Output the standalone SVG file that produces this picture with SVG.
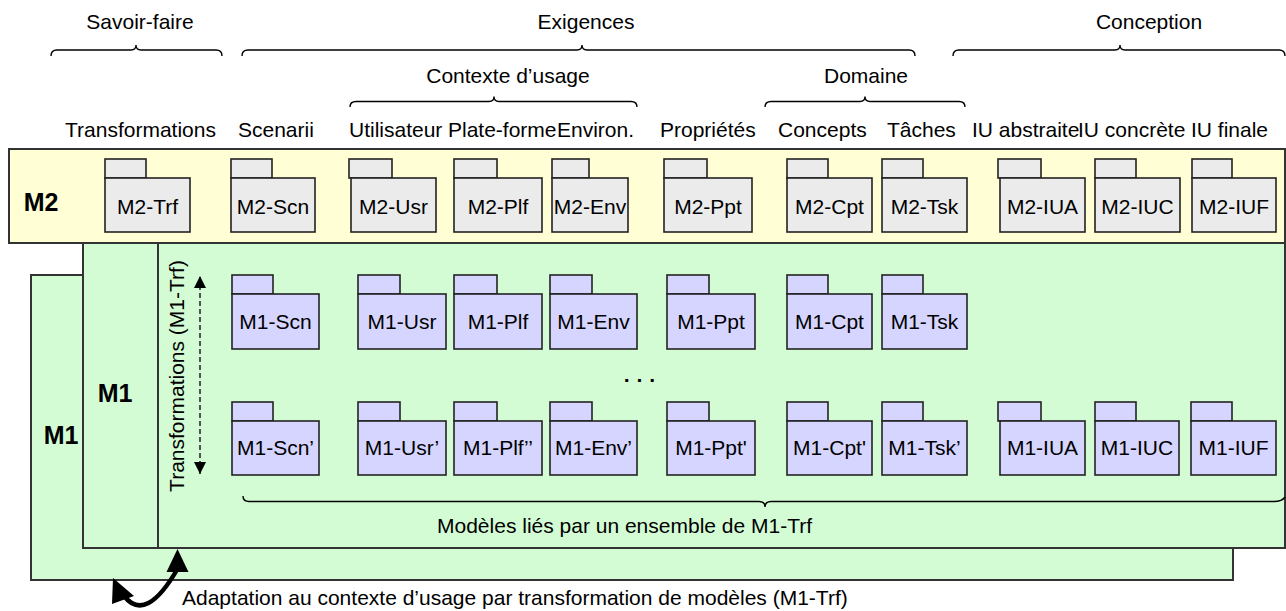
<svg xmlns="http://www.w3.org/2000/svg" width="1286" height="611" viewBox="0 0 1286 611">
<style>
text{font-family:"Liberation Sans",Arial,sans-serif;font-size:21px;fill:#000}
.c{text-anchor:middle}
.b{font-weight:bold;font-size:25px}
.frame{stroke:#333;stroke-width:2}
.pk rect{stroke:#222;stroke-width:1.6}
.m2 rect{fill:#EBEBEB}
.m1 rect{fill:#D5D5FF}
.brace{fill:none;stroke:#000;stroke-width:1.4}
</style>
<defs>
<marker id="ah" viewBox="0 0 12 12" refX="12" refY="6" markerWidth="12" markerHeight="12" markerUnits="userSpaceOnUse" orient="auto-start-reverse">
<path d="M0,0 L12,6 L0,12 Z" fill="#000"/>
</marker>
</defs>
<g id="labels-top">
<text class="c" x="140" y="29">Savoir-faire</text>
<text class="c" x="586" y="29">Exigences</text>
<text class="c" x="1149" y="29">Conception</text>
<text class="c" x="508" y="83">Contexte d’usage</text>
<text class="c" x="866" y="83">Domaine</text>
<text x="65" y="137">Transformations</text>
<text x="238" y="137">Scenarii</text>
<text x="349" y="137">Utilisateur</text>
<text x="448" y="137">Plate-forme</text>
<text x="557" y="137">Environ.</text>
<text x="660" y="137">Propriétés</text>
<text x="778" y="137">Concepts</text>
<text x="887" y="137">Tâches</text>
<text x="972" y="137">IU abstraite</text>
<text x="1078" y="137">IU concrète</text>
<text x="1191" y="137">IU finale</text>
</g>
<g id="braces" class="brace">
<path class="brace" d="M51,56 Q51,50 57,50 L131,50 Q136,50 136,45 Q136,50 141,50 L216,50 Q222,50 222,56"/>
<path class="brace" d="M242,56 Q242,50 248,50 L577,50 Q582,50 582,45 Q582,50 587,50 L909,50 Q915,50 915,56"/>
<path class="brace" d="M953,56 Q953,50 959,50 L1115,50 Q1120,50 1120,45 Q1120,50 1125,50 L1279,50 Q1285,50 1285,56"/>
<path class="brace" d="M350,107 Q350,101.5 356,101.5 L489,101.5 Q494,101.5 494,96.5 Q494,101.5 499,101.5 L631,101.5 Q637,101.5 637,107"/>
<path class="brace" d="M765,107 Q765,101.5 771,101.5 L860,101.5 Q865,101.5 865,96.5 Q865,101.5 870,101.5 L959,101.5 Q965,101.5 965,107"/>
</g>
<g id="M1-back">
<rect class="frame" x="31" y="275" width="1202" height="305" fill="#D4FCD4"/>
<text class="b c" x="61" y="444">M1</text>
</g>
<g id="M1-front">
<rect class="frame" x="83" y="243" width="1202" height="305" fill="#D4FCD4"/>
<line class="frame" x1="158" y1="243" x2="158" y2="548"/>
<text class="b c" x="115" y="402">M1</text>
</g>
<g id="M2">
<rect class="frame" x="9" y="149" width="1276" height="94" fill="#FFFED5"/>
<text class="b c" x="41" y="211">M2</text>
</g>
<g id="m2-packages" class="pk m2">
<g id="M2-Trf"><rect x="105" y="159" width="41" height="19"/><rect x="105" y="178" width="85" height="54"/><text class="c" x="147.5" y="214">M2-Trf</text></g>
<g id="M2-Scn"><rect x="231" y="159" width="41" height="19"/><rect x="231" y="178" width="84" height="54"/><text class="c" x="273" y="214">M2-Scn</text></g>
<g id="M2-Usr"><rect x="349" y="159" width="43" height="19"/><rect x="351" y="178" width="85" height="54"/><text class="c" x="393.5" y="214">M2-Usr</text></g>
<g id="M2-Plf"><rect x="454" y="159" width="43" height="19"/><rect x="454" y="178" width="88" height="54"/><text class="c" x="498" y="214">M2-Plf</text></g>
<g id="M2-Env"><rect x="552" y="159" width="37" height="19"/><rect x="552" y="178" width="76" height="54"/><text class="c" x="590" y="214">M2-Env</text></g>
<g id="M2-Ppt"><rect x="664" y="159" width="43" height="19"/><rect x="664" y="178" width="88" height="54"/><text class="c" x="708" y="214">M2-Ppt</text></g>
<g id="M2-Cpt"><rect x="787" y="159" width="41" height="19"/><rect x="787" y="178" width="85" height="54"/><text class="c" x="829.5" y="214">M2-Cpt</text></g>
<g id="M2-Tsk"><rect x="882" y="159" width="41" height="19"/><rect x="882" y="178" width="85" height="54"/><text class="c" x="924.5" y="214">M2-Tsk</text></g>
<g id="M2-IUA"><rect x="998" y="159" width="43" height="19"/><rect x="1000" y="178" width="85" height="54"/><text class="c" x="1042.5" y="214">M2-IUA</text></g>
<g id="M2-IUC"><rect x="1095" y="159" width="41" height="19"/><rect x="1095" y="178" width="85" height="54"/><text class="c" x="1137.5" y="214">M2-IUC</text></g>
<g id="M2-IUF"><rect x="1192" y="159" width="40" height="19"/><rect x="1192" y="178" width="84" height="54"/><text class="c" x="1234" y="214">M2-IUF</text></g>
</g>
<g id="m1-packages-row1" class="pk m1">
<g id="M1-Scn"><rect x="232" y="275" width="41" height="19"/><rect x="232" y="294" width="87" height="55"/><text class="c" x="275.5" y="329">M1-Scn</text></g>
<g id="M1-Usr"><rect x="358" y="275" width="42" height="19"/><rect x="358" y="294" width="88" height="55"/><text class="c" x="402" y="329">M1-Usr</text></g>
<g id="M1-Plf"><rect x="454" y="275" width="43" height="19"/><rect x="454" y="294" width="88" height="55"/><text class="c" x="498" y="329">M1-Plf</text></g>
<g id="M1-Env"><rect x="550" y="275" width="42" height="19"/><rect x="550" y="294" width="87" height="55"/><text class="c" x="593.5" y="329">M1-Env</text></g>
<g id="M1-Ppt"><rect x="667" y="275" width="42" height="19"/><rect x="667" y="294" width="88" height="55"/><text class="c" x="711" y="329">M1-Ppt</text></g>
<g id="M1-Cpt"><rect x="787" y="275" width="41" height="19"/><rect x="787" y="294" width="85" height="55"/><text class="c" x="829.5" y="329">M1-Cpt</text></g>
<g id="M1-Tsk"><rect x="882" y="275" width="41" height="19"/><rect x="882" y="294" width="85" height="55"/><text class="c" x="924.5" y="329">M1-Tsk</text></g>
</g>
<text class="c" x="640" y="387" font-weight="bold">· · ·</text>
<g id="m1-packages-row2" class="pk m1">
<g id="M1-Scn2"><rect x="232" y="402" width="41" height="19"/><rect x="232" y="421" width="87" height="54"/><text class="c" x="275.5" y="455">M1-Scn’</text></g>
<g id="M1-Usr2"><rect x="358" y="402" width="42" height="19"/><rect x="358" y="421" width="88" height="54"/><text class="c" x="402" y="455">M1-Usr’</text></g>
<g id="M1-Plf2"><rect x="454" y="402" width="43" height="19"/><rect x="454" y="421" width="88" height="54"/><text class="c" x="498" y="455">M1-Plf’’</text></g>
<g id="M1-Env2"><rect x="550" y="402" width="42" height="19"/><rect x="550" y="421" width="87" height="54"/><text class="c" x="593.5" y="455">M1-Env’</text></g>
<g id="M1-Ppt2"><rect x="667" y="402" width="42" height="19"/><rect x="667" y="421" width="88" height="54"/><text class="c" x="711" y="455">M1-Ppt'</text></g>
<g id="M1-Cpt2"><rect x="787" y="402" width="41" height="19"/><rect x="787" y="421" width="85" height="54"/><text class="c" x="829.5" y="455">M1-Cpt'</text></g>
<g id="M1-Tsk2"><rect x="882" y="402" width="41" height="19"/><rect x="882" y="421" width="85" height="54"/><text class="c" x="924.5" y="455">M1-Tsk’</text></g>
<g id="M1-IUA"><rect x="998" y="402" width="43" height="19"/><rect x="1000" y="421" width="85" height="54"/><text class="c" x="1042.5" y="455">M1-IUA</text></g>
<g id="M1-IUC"><rect x="1095" y="402" width="41" height="19"/><rect x="1095" y="421" width="84" height="54"/><text class="c" x="1137" y="455">M1-IUC</text></g>
<g id="M1-IUF"><rect x="1191" y="402" width="41" height="19"/><rect x="1191" y="421" width="85" height="54"/><text class="c" x="1233.5" y="455">M1-IUF</text></g>
</g>
<g id="connectors">
<line x1="200" y1="474" x2="200" y2="276" stroke="#000" stroke-width="1.3" stroke-dasharray="5,3" marker-start="url(#ah)" marker-end="url(#ah)"/>
<path class="brace" d="M243,496 Q243,501.5 249,501.5 L759,501.5 Q765,501.5 765,507 Q765,501.5 771,501.5 L1274,501.5 Q1282,501.5 1285,497"/>
<path d="M124,596 Q146,624 178,568" fill="none" stroke="#000" stroke-width="4.5"/>
<polygon points="177.5,549 166.5,572 188.5,572" fill="#000"/>
<polygon points="113,578 112,604 134,596" fill="#000"/>
</g>
<text transform="translate(184,376) rotate(-90)" class="c">Transformations (M1-Trf)</text>
<text x="437" y="533">Modèles liés par un ensemble de M1-Trf</text>
<text x="182" y="605">Adaptation au contexte d’usage par transformation de modèles (M1-Trf)</text>
</svg>
